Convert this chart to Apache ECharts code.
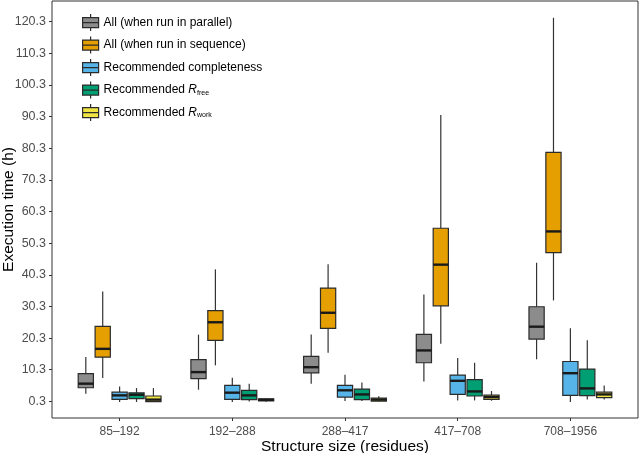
<!DOCTYPE html>
<html>
<head>
<meta charset="utf-8">
<script src="https://cdn.jsdelivr.net/npm/echarts@6/dist/echarts.min.js"></script>
<style>html,body{margin:0;padding:0;background:#fff;}#c{width:640px;height:453px;}</style>
</head>
<body>
<div id="c"></div>
<script>
// Categories (structure size bins)
const categories = ['85–192', '192–288', '288–417', '417–708', '708–1956'];
// Y tick labels
const yTicks = [0.3, 10.3, 20.3, 30.3, 40.3, 50.3, 60.3, 70.3, 80.3, 90.3, 100.3, 110.3, 120.3];
// Box stats per category: [min, Q1, median, Q3, max]
const parallelStats = [
  [2.7, 4.6, 5.9, 9.05, 14.3],
  [4.0, 7.5, 9.55, 13.5, 21.4],
  [5.9, 9.3, 11.1, 14.5, 21.4],
  [6.6, 12.5, 16.4, 21.5, 34.1],
  [13.6, 20.0, 23.9, 30.2, 44.1]
];
const sequenceStats = [
  [7.7, 14.3, 16.9, 24.0, 35.0],
  [11.7, 19.6, 25.3, 29.0, 42.0],
  [15.7, 23.35, 28.3, 36.1, 43.6],
  [18.5, 30.5, 43.5, 55.0, 90.8],
  [32.2, 47.3, 54.0, 79.0, 121.5]
];
const completenessStats = [
  [0.1, 0.95, 2.2, 3.2, 5.0],
  [0.1, 0.95, 3.05, 5.35, 7.8],
  [0.4, 1.66, 3.8, 5.35, 8.7],
  [0.6, 2.5, 6.8, 8.6, 14.0],
  [0.1, 2.2, 9.2, 12.9, 23.4]
];
const rfreeStats = [
  [0.1, 1.15, 2.4, 3.0, 4.5],
  [0.3, 0.85, 2.2, 3.8, 5.9],
  [0.4, 0.85, 2.5, 4.2, 6.3],
  [0.6, 2.0, 3.45, 7.15, 12.5],
  [0.9, 2.1, 4.4, 10.5, 19.6]
];
const rworkStats = [
  [0.1, 0.2, 0.85, 2.0, 4.5],
  [0.2, 0.45, 0.8, 1.1, 1.3],
  [0.3, 0.4, 0.85, 1.35, 1.9],
  [0.5, 0.93, 1.66, 2.3, 3.55],
  [0.9, 1.47, 2.5, 3.2, 5.3]
];

const seriesNames = [
  'All (when run in parallel)',
  'All (when run in sequence)',
  'Recommended completeness',
  'Recommended Rfree',
  'Recommended Rwork'
];
const seriesStats = [parallelStats, sequenceStats, completenessStats, rfreeStats, rworkStats];
const colors = ['#8c8c8c', '#E69F00', '#56B4E9', '#009E73', '#F0E442'];
const legendLabels = [
  '{n|All (when run in parallel)}',
  '{n|All (when run in sequence)}',
  '{n|Recommended completeness}',
  '{n|Recommended }{i|R}{s|free}',
  '{n|Recommended }{i|R}{s|work}'
];

const DODGE = 0.15;
const BOXW = 0.135;
const OUTLINE = '#2b2b2b';

function makeRender(si, color) {
  return function (params, api) {
    const x = api.value(0) + (si - 2) * DODGE;
    const pMin = api.coord([x, api.value(1)]);
    const pQ1 = api.coord([x, api.value(2)]);
    const pMed = api.coord([x, api.value(3)]);
    const pQ3 = api.coord([x, api.value(4)]);
    const pMax = api.coord([x, api.value(5)]);
    const xl = api.coord([x - BOXW / 2, 0])[0];
    const xr = api.coord([x + BOXW / 2, 0])[0];
    return {
      type: 'group',
      children: [
        { type: 'line', shape: { x1: pMin[0], y1: pMin[1], x2: pQ1[0], y2: pQ1[1] }, style: { stroke: '#333', lineWidth: 1.2 } },
        { type: 'line', shape: { x1: pQ3[0], y1: pQ3[1], x2: pMax[0], y2: pMax[1] }, style: { stroke: '#333', lineWidth: 1.2 } },
        { type: 'rect', shape: { x: xl, y: pQ3[1], width: xr - xl, height: pQ1[1] - pQ3[1] }, style: { fill: color, stroke: OUTLINE, lineWidth: 1.2 } },
        { type: 'line', shape: { x1: xl, y1: pMed[1], x2: xr, y2: pMed[1] }, style: { stroke: '#1a1a1a', lineWidth: 2.4 } }
      ]
    };
  };
}

const series = seriesNames.map(function (name, si) {
  return {
    type: 'custom',
    name: name,
    renderItem: makeRender(si, colors[si]),
    itemStyle: { color: colors[si], borderColor: OUTLINE, borderWidth: 1 },
    encode: { x: 0, y: [1, 2, 3, 4, 5] },
    data: seriesStats[si].map(function (s, ci) { return [ci].concat(s); }),
    animation: false,
    silent: true
  };
});

const iconPath = 'path://M0,3.5H16V13.5H0Z M0,8.5H16 M8,0V3.5 M8,13.5V17';

const chart = echarts.init(document.getElementById('c'), null, { renderer: 'canvas' });
chart.setOption({
  animation: false,
  textStyle: { fontFamily: 'Liberation Sans, Arial, sans-serif' },
  grid: { left: 52, right: 2, top: 1, bottom: 35, show: true, borderColor: '#333', borderWidth: 1, backgroundColor: 'transparent', containLabel: false, outerBoundsMode: 'none' },
  legend: {
    orient: 'vertical',
    left: 82,
    top: 13.5,
    padding: 0,
    itemWidth: 16,
    itemHeight: 17,
    itemGap: 4.3,
    icon: iconPath,
    data: seriesNames.map(function (n, i) {
      return { name: n, itemStyle: { color: colors[i], borderColor: OUTLINE, borderWidth: 1.2 } };
    }),
    formatter: function (name) { return legendLabels[seriesNames.indexOf(name)]; },
    textStyle: {
      color: '#000',
      fontSize: 12,
      rich: {
        n: { fontSize: 12, color: '#000', fontFamily: 'Liberation Sans' },
        i: { fontSize: 12, color: '#000', fontStyle: 'italic', fontFamily: 'Liberation Sans' },
        s: { fontSize: 7, color: '#000', fontFamily: 'Liberation Sans', verticalAlign: 'bottom', padding: [5, 0, 0, 0] }
      }
    },
    selectedMode: false
  },
  xAxis: {
    type: 'value',
    min: -0.6,
    max: 4.6,
    name: 'Structure size (residues)',
    nameLocation: 'middle',
    nameGap: 20.5,
    nameMoveOverlap: false,
    nameTextStyle: { fontSize: 15.5, color: '#000' },
    axisLine: { show: false, onZero: false },
    axisTick: { show: true, length: 3, lineStyle: { color: '#333' }, customValues: [0, 1, 2, 3, 4] },
    axisLabel: {
      customValues: [0, 1, 2, 3, 4],
      formatter: function (v) { return categories[Math.round(v)]; },
      color: '#4d4d4d',
      fontSize: 12,
      margin: 8
    },
    splitLine: { show: false }
  },
  yAxis: {
    type: 'value',
    min: -4.95,
    max: 126.8,
    name: 'Execution time (h)',
    nameLocation: 'middle',
    nameGap: 35,
    nameMoveOverlap: false,
    nameTextStyle: { fontSize: 15.5, color: '#000' },
    axisLine: { show: false, onZero: false },
    axisTick: { show: true, length: 3, lineStyle: { color: '#333' }, customValues: yTicks },
    axisLabel: {
      customValues: yTicks,
      formatter: function (v) { return v.toFixed(1); },
      color: '#4d4d4d',
      fontSize: 12.5,
      margin: 6
    },
    splitLine: { show: false }
  },
  series: series
});
</script>
</body>
</html>
